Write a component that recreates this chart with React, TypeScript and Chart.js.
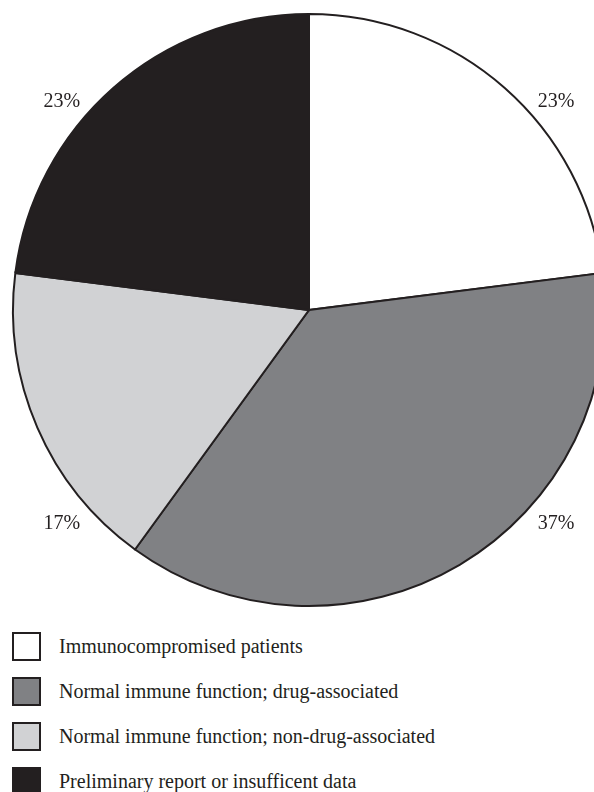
import React, { useEffect, useRef } from "react";
import { Chart, registerables } from "chart.js";

Chart.register(...registerables);

const categories = [
  "Immunocompromised patients",
  "Normal immune function; drug-associated",
  "Normal immune function; non-drug-associated",
  "Preliminary report or insufficent data",
];
const values = [23, 37, 17, 23];
const valueLabels = ["23%", "37%", "17%", "23%"];
const colors = ["#ffffff", "#808184", "#d1d2d4", "#231f20"];
const borderColor = "#231f20";
const FONT = "'Liberation Serif', 'DejaVu Serif', serif";

const cornerLabels = {
  id: "cornerLabels",
  afterDatasetsDraw(chart: any) {
    const meta = chart.getDatasetMeta(0);
    const ctx = chart.ctx;
    ctx.save();
    ctx.font = `20px ${FONT}`;
    ctx.fillStyle = "#231f20";
    ctx.textAlign = "center";
    ctx.textBaseline = "middle";
    meta.data.forEach((arc: any, i: number) => {
      const { x, y, startAngle, endAngle, outerRadius } = arc.getProps(
        ["x", "y", "startAngle", "endAngle", "outerRadius"],
        true
      );
      const mid = (startAngle + endAngle) / 2;
      const sx = Math.cos(mid) >= 0 ? 1 : -1;
      const top = Math.sin(mid) < 0;
      const lx = x + sx * 0.835 * outerRadius;
      const ly = y + (top ? -0.703 : 0.723) * outerRadius;
      ctx.fillText(valueLabels[i], lx, ly);
    });
    ctx.restore();
  },
};

export default function App() {
  const ref = useRef<HTMLCanvasElement>(null);
  useEffect(() => {
    if (!ref.current) return;
    const chart = new Chart(ref.current, {
      type: "pie",
      data: {
        labels: categories,
        datasets: [
          {
            data: values,
            backgroundColor: colors,
            borderColor: borderColor,
            borderWidth: 2,
            borderJoinStyle: "miter",
          } as any,
        ],
      },
      options: {
        responsive: false,
        animation: false,
        devicePixelRatio: 1,
        layout: { padding: { left: 12, right: 12, top: 13, bottom: 13 } },
        plugins: {
          legend: { display: false },
          tooltip: { enabled: false },
        },
      },
      plugins: [cornerLabels],
    });
    return () => chart.destroy();
  }, []);

  return (
    <div
      style={{
        position: "absolute",
        left: 0,
        top: 0,
        width: 594,
        height: 792,
        overflow: "hidden",
        background: "#ffffff",
      }}
    >
      <canvas ref={ref} width={618} height={620} style={{ display: "block" }} />
      <div style={{ position: "absolute", left: 12, top: 632 }}>
        {categories.map((c, i) => (
          <div
            key={c}
            style={{
              display: "flex",
              alignItems: "center",
              height: 29,
              marginBottom: 16,
            }}
          >
            <div
              style={{
                width: 29,
                height: 29,
                flex: "none",
                boxSizing: "border-box",
                border: `2px solid ${borderColor}`,
                background: colors[i],
              }}
            />
            <span
              style={{
                marginLeft: 18,
                fontFamily: FONT,
                fontSize: 20,
                lineHeight: "29px",
                color: "#231f20",
                whiteSpace: "nowrap",
              }}
            >
              {c}
            </span>
          </div>
        ))}
      </div>
    </div>
  );
}
